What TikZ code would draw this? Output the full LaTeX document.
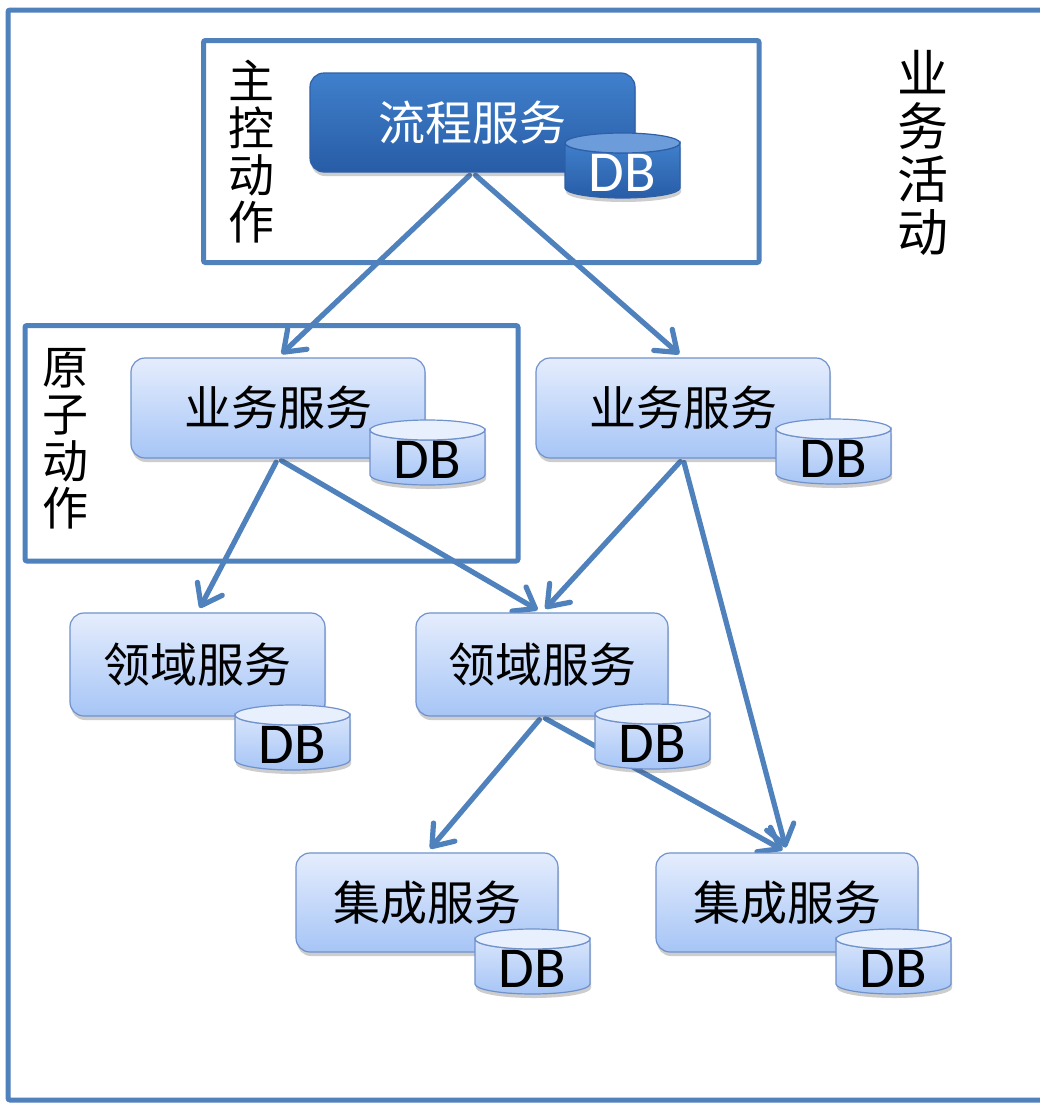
\documentclass[tikz,border=0pt]{standalone}
\usepackage{fontspec}
\newfontfamily\cjk{Noto Sans CJK SC}
\newfontfamily\dbfont{Carlito}
\usetikzlibrary{arrows.meta,shadows}
\definecolor{frameblue}{RGB}{79,129,189}
\definecolor{lighttop}{RGB}{229,237,253}
\definecolor{lightbot}{RGB}{166,197,246}
\definecolor{lightedge}{RGB}{112,146,204}
\definecolor{darktop}{RGB}{64,128,204}
\definecolor{darkbot}{RGB}{40,92,166}
\definecolor{darkedge}{RGB}{46,96,168}
\definecolor{darkcap}{RGB}{108,156,218}
\definecolor{lightcap}{RGB}{232,240,253}
\pgfdeclarelayer{bg}
\pgfdeclarelayer{arr}
\pgfsetlayers{bg,arr,main}
\tikzset{
  frame/.style={draw=frameblue, line width=5pt, rounded corners=2pt},
  svcshadow/.style={drop shadow={shadow xshift=1pt, shadow yshift=-4pt, opacity=0.28, fill=black!70}},
  lbox/.style={draw=lightedge, line width=1.2pt, rounded corners=14pt, top color=lighttop, bottom color=lightbot,
     minimum width=#1, minimum height=100pt, svcshadow, text=black,
     font=\cjk\fontsize{47}{50}\selectfont},
  dbox/.style={draw=darkedge, line width=1.2pt, rounded corners=14pt, top color=darktop, bottom color=darkbot,
     minimum width=#1, minimum height=99pt, svcshadow, text=white,
     font=\cjk\fontsize{47}{50}\selectfont},
  lightbody/.style={draw=lightedge, line width=1.2pt, top color=lighttop!80!lightbot, bottom color=lightbot, svcshadow},
  lightcapst/.style={draw=lightedge, line width=1.2pt, fill=lightcap},
  lighttext/.style={text=black},
  darkbody/.style={draw=darkedge, line width=1.2pt, top color=darktop, bottom color=darkbot, svcshadow},
  darkcapst/.style={draw=darkedge, line width=1.2pt, fill=darkcap},
  darktext/.style={text=white},
  vtext/.style={align=center, font=\cjk\fontsize{46}{47}\selectfont, inner sep=0pt},
  flow/.style={draw=frameblue, line width=5.2pt, line cap=round,
     -{Straight Barb[length=19pt,width=28pt,round]}, shorten >=5pt, shorten <=4pt},
}
\newcommand\mkdb[4]{%
  \begin{scope}[shift={(#2,-#3)}]
    \path[#4body] (0,-10) -- (0,-55) arc[start angle=180,end angle=360,x radius=57.5,y radius=10]
      -- (115,-10) arc[start angle=0,end angle=-180,x radius=57.5,y radius=10] -- cycle;
    \path[#4capst] (57.5,-10) ellipse[x radius=57.5,y radius=10];
    \node[#4text, font=\dbfont\fontsize{58}{60}\selectfont, inner sep=0pt] (#1) at (57.5,-40) {DB};
  \end{scope}}
\begin{document}
\begin{tikzpicture}[x=1pt,y=1pt]
\useasboundingbox (0,0) rectangle (1040,-1103);
% service boxes
\node[dbox=325pt] (flow) at (472.5,-122.5) {流程服务};
\node[lbox=294pt] (bizL) at (278,-408) {业务服务};
\node[lbox=294pt] (bizR) at (683,-408) {业务服务};
\node[lbox=255pt, minimum height=103pt] (domL) at (197.5,-664.5) {领域服务};
\node[lbox=252pt, minimum height=103pt] (domM) at (542,-664.5) {领域服务};
\node[lbox=262pt, minimum height=99pt] (intL) at (427,-902.5) {集成服务};
\node[lbox=262pt, minimum height=99pt] (intR) at (787,-902.5) {集成服务};
% databases
\mkdb{dbflow}{565}{133}{dark}
\mkdb{dbbizL}{370}{420}{light}
\mkdb{dbbizR}{776}{419}{light}
\mkdb{dbdomL}{235}{705}{light}
\mkdb{dbdomM}{595}{704}{light}
\mkdb{dbintL}{475}{929}{light}
\mkdb{dbintR}{836}{929}{light}
% labels
\node[vtext] (zk) at (251,-152) {主\\控\\动\\作};
\node[vtext] (yz) at (65,-439) {原\\子\\动\\作};
\node[vtext, font=\cjk\fontsize{51}{53}\selectfont] (yh) at (923,-153) {业\\务\\活\\动};
% frames
\begin{pgfonlayer}{bg}
  \fill[white] (0,0) rectangle (1040,-1103);
  \draw[frame] (8,-10) rectangle (1060,-1100);
  \draw[frame] (203.5,-40.5) rectangle (759,-262.5);
  \draw[frame] (25,-325.5) rectangle (518,-561);
\end{pgfonlayer}
% connectors
\begin{pgfonlayer}{arr}
  \draw[flow] (flow.south) -- (bizL.north);
  \draw[flow] (flow.south) -- (bizR.north);
  \draw[flow] (bizL.south) -- (domL.north);
  \draw[flow] (bizL.south) -- (domM.north);
  \draw[flow] (bizR.south) -- (domM.north);
  \draw[flow] (bizR.south) -- (intR.north);
  \draw[flow] (domM.south) -- (intL.north);
  \draw[flow] (domM.south) -- (intR.north);
\end{pgfonlayer}
\end{tikzpicture}
\end{document}
